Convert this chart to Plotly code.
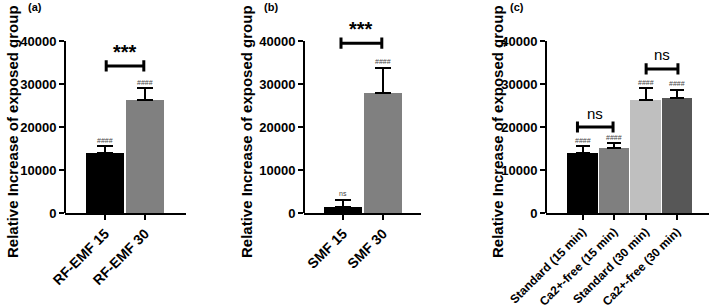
import plotly.graph_objects as go

# ---- data ----
cats_a = ["RF-EMF 15", "RF-EMF 30"]
vals_a = [14000, 26300]
errs_a = [1500, 2700]
hash_a = ["####", "####"]

cats_b = ["SMF 15", "SMF 30"]
vals_b = [1400, 28000]
errs_b = [1700, 5800]
hash_b = ["ns", "####"]

cats_c = ["Standard (15 min)", "Ca2+-free (15 min)", "Standard (30 min)", "Ca2+-free (30 min)"]
vals_c = [14000, 15200, 26300, 26700]
errs_c = [1500, 1000, 2700, 2000]
hash_c = ["####", "####", "####", "####"]

yticks = [0, 10000, 20000, 30000, 40000]
ytitle = "Relative Increase of exposed group"
panel_labels = ["(a)", "(b)", "(c)"]

# significance brackets: (panel, x0, x1, y, label)
sig = [
    (0, 0.03, 0.97, 34200, "***"),
    (1, -0.05, 0.97, 39500, "***"),
    (2, -0.16, 0.97, 20000, "ns"),
    (2, 2.02, 3.03, 33500, "ns"),
]

colors_ab = ["#000000", "#808080"]
colors_c = ["#000000", "#7f7f7f", "#bfbfbf", "#575757"]

W, H = 709, 308
FONT = "Liberation Sans, Arial, sans-serif"

def b(s):
    return "<b>" + s + "</b>"

# pixel layout
y0_px = 213.0           # y of value 0
px_per = 172.0 / 40000  # px per unit
ymax = 46000
ytop_px = y0_px - ymax * px_per
ydom = [(H - y0_px) / H, (H - ytop_px) / H]

panels = [
    dict(cats=cats_a, vals=vals_a, errs=errs_a, hashes=hash_a, colors=colors_ab,
         ax_px=65, right_px=186, c0_px=105, step=40, tick_size=14, title_x=12, lab_x=35),
    dict(cats=cats_b, vals=vals_b, errs=errs_b, hashes=hash_b, colors=colors_ab,
         ax_px=304, right_px=421, c0_px=343, step=40, tick_size=14, title_x=246, lab_x=271),
    dict(cats=cats_c, vals=vals_c, errs=errs_c, hashes=hash_c, colors=colors_c,
         ax_px=546, right_px=709, c0_px=582.5, step=31.5, tick_size=12, title_x=497, lab_x=517),
]

fig = go.Figure()
annotations = []
shapes = []

for i, p in enumerate(panels):
    sfx = "" if i == 0 else str(i + 1)
    xa, ya = "x" + sfx, "y" + sfx
    n = len(p["cats"])
    xs = list(range(n))
    fig.add_trace(go.Bar(
        x=xs, y=p["vals"], width=0.97,
        marker=dict(color=p["colors"], line=dict(width=0)),
        error_y=dict(type="data", symmetric=False, array=p["errs"],
                     arrayminus=[0] * n, color="#000000", thickness=2,
                     width=8 if n == 2 else 7),
        xaxis=xa, yaxis=ya, showlegend=False, hoverinfo="skip",
    ))
    left = (p["ax_px"] - p["c0_px"]) / p["step"]
    right = (n - 1) + (p["right_px"] - (p["c0_px"] + (n - 1) * p["step"])) / p["step"]
    xdom = [p["ax_px"] / W, min(1.0, p["right_px"] / W)]
    fig.update_layout(**{
        "xaxis" + sfx: dict(
            domain=xdom, range=[left, right], tickmode="array", tickvals=xs,
            ticktext=[b(c) for c in p["cats"]], tickangle=-45, showline=True, linewidth=2,
            linecolor="#000000", ticks="outside", ticklen=5, tickwidth=2,
            tickcolor="#000000", showgrid=False, zeroline=False, anchor=ya,
            automargin=False,
            tickfont=dict(family=FONT, size=p["tick_size"], color="#000000"),
        ),
        "yaxis" + sfx: dict(
            domain=ydom, range=[0, ymax], tickmode="array", tickvals=yticks,
            ticktext=[b(str(v)) for v in yticks], showline=False, ticks="outside",
            ticklen=5, tickwidth=2, tickcolor="#000000", showgrid=False,
            zeroline=False, anchor=xa, automargin=False,
            tickfont=dict(family=FONT, size=13, color="#000000"),
        ),
    })
    # y axis line (0..40000)
    shapes.append(dict(type="line", xref="paper", yref=ya,
                       x0=p["ax_px"] / W, x1=p["ax_px"] / W, y0=0, y1=40000,
                       line=dict(color="#000000", width=2)))
    # y title
    annotations.append(dict(text=b(ytitle), textangle=-90, xref="paper", yref="paper",
                            x=p["title_x"] / W, y=(H - 132) / H, showarrow=False,
                            xanchor="center", yanchor="middle",
                            font=dict(family=FONT, size=15, color="#000000")))
    # panel label
    annotations.append(dict(text=b(panel_labels[i]), xref="paper", yref="paper",
                            x=p["lab_x"] / W, y=(H - 7) / H, showarrow=False,
                            xanchor="center", yanchor="middle",
                            font=dict(family=FONT, size=11, color="#000000")))
    # hash labels
    for j in range(n):
        annotations.append(dict(text=p["hashes"][j], xref=xa, yref=ya, x=xs[j],
                                y=p["vals"][j] + p["errs"][j], yshift=6, showarrow=False,
                                font=dict(family=FONT, size=7, color="#444444")))

for (pi, x0, x1, yv, lab) in sig:
    sfx = "" if pi == 0 else str(pi + 1)
    xa, ya = "x" + sfx, "y" + sfx
    cap = 1300
    for sh in [dict(x0=x0, x1=x1, y0=yv, y1=yv),
               dict(x0=x0, x1=x0, y0=yv - cap, y1=yv + cap),
               dict(x0=x1, x1=x1, y0=yv - cap, y1=yv + cap)]:
        shapes.append(dict(type="line", xref=xa, yref=ya,
                           line=dict(color="#000000", width=3), **sh))
    is_star = lab == "***"
    annotations.append(dict(text=b(lab) if is_star else lab, xref=xa, yref=ya,
                            x=(x0 + x1) / 2, y=yv, yshift=14, showarrow=False,
                            font=dict(family=FONT, size=20 if is_star else 15,
                                      color="#000000")))

fig.update_layout(
    width=W, height=H, margin=dict(l=0, r=0, t=0, b=0, pad=0, autoexpand=False),
    paper_bgcolor="#ffffff", plot_bgcolor="#ffffff",
    bargap=0, shapes=shapes, annotations=annotations, hovermode=False,
)

fig.write_html("out.html", config={"displayModeBar": False, "staticPlot": True},
               post_script="document.body.style.margin='0';document.body.style.overflow='hidden';")
